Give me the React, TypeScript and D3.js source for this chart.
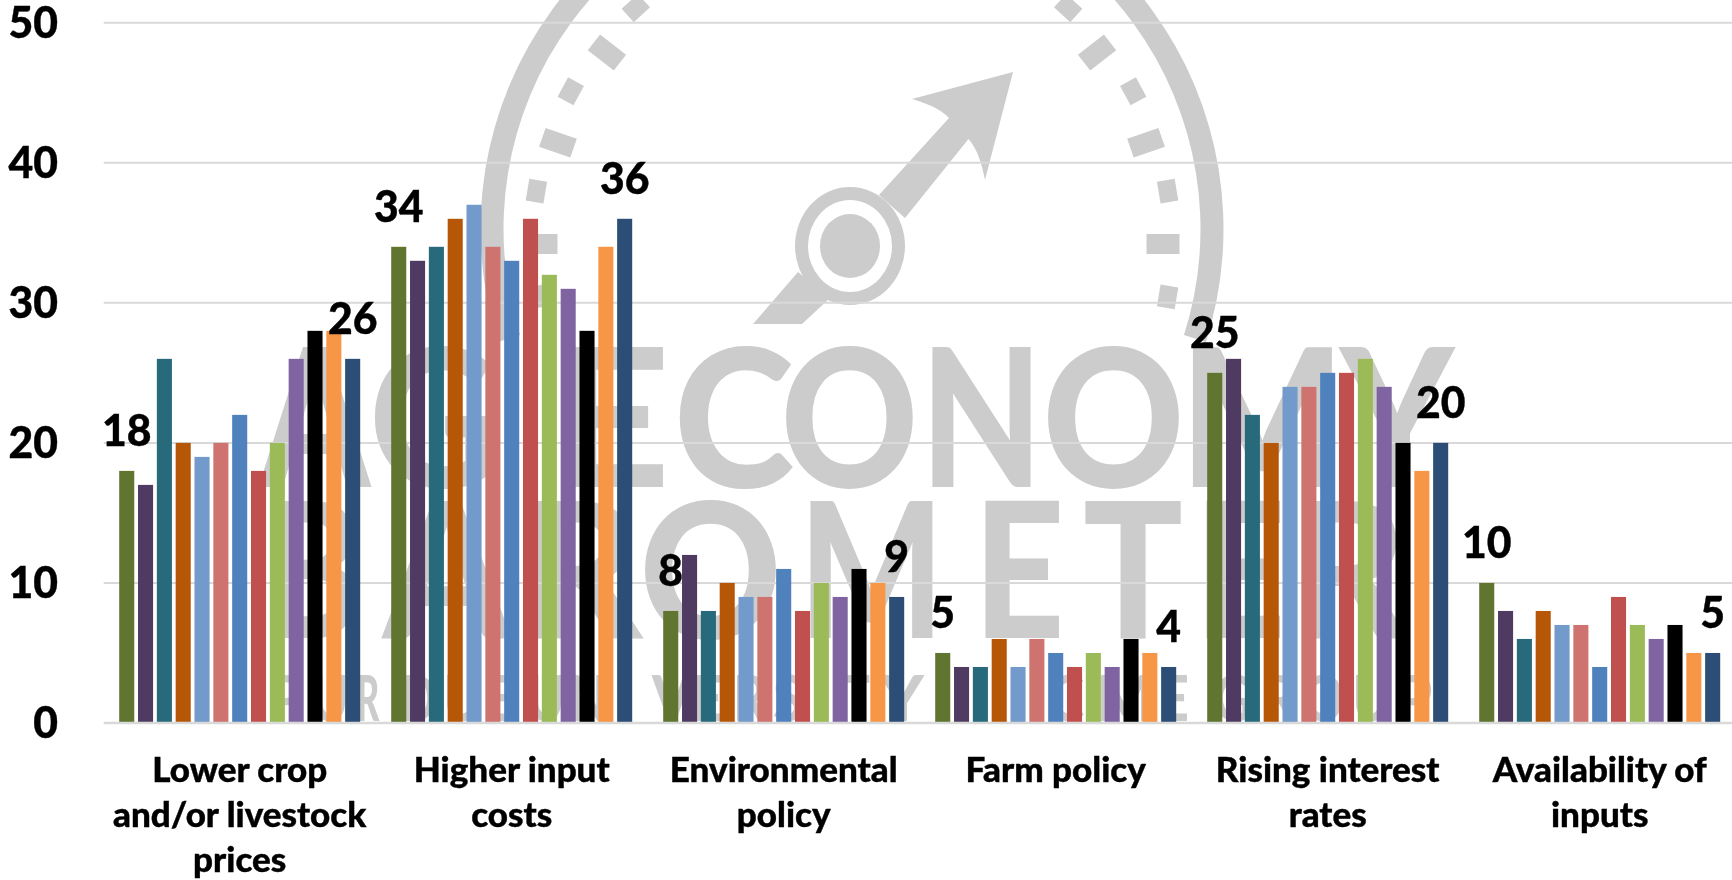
import React from "react";
import * as d3 from "d3";

const categories = [
  ["Lower crop", "and/or livestock", "prices"],
  ["Higher input", "costs"],
  ["Environmental", "policy"],
  ["Farm policy"],
  ["Rising interest", "rates"],
  ["Availability of", "inputs"],
];
const seriesIds = ["s1","s2","s3","s4","s5","s6","s7","s8","s9","s10","s11","s12","s13"];
const seriesColors = ["#5f7530","#4f3b62","#276a7c","#b65708","#729aca","#cf7371","#4f81bd","#c0504d","#9bbb59","#8064a2","#000000","#f79646","#2c4d75"];
const lowerPrices = [18,17,26,20,19,20,22,18,20,26,28,28,26];
const inputCosts = [34,33,34,36,37,34,33,36,32,31,28,34,36];
const envPolicy = [8,12,8,10,9,9,11,8,10,9,11,10,9];
const farmPolicy = [5,4,4,6,4,6,5,4,5,4,6,5,4];
const interestRates = [25,26,22,20,24,24,25,25,26,24,20,18,20];
const inputAvailability = [10,8,6,8,7,7,4,9,7,6,7,5,5];
const groups = [lowerPrices,inputCosts,envPolicy,farmPolicy,interestRates,inputAvailability];
const yTicks = [0,10,20,30,40,50];

// watermark lettering: [glyph, left, right]
const wmLine1: [string,number,number][] = [["A",260,370],["G",377,490],["E",555,663],["C",681,787],["O",789,910],["N",928,1035],["O",1051,1176],["M",1190,1335],["Y",1340,1454]];
const wmLine2: [string,number,number][] = [["B",268,355],["A",383,510],["R",525,635],["O",648,773],["M",808,935],["E",979,1059],["T",1083,1183],["E",1200,1280],["R",1300,1400]];
const wmLine3: [string,number,number][] = [["P",270,300],["U",314,346],["R",358,378],["D",402,434],["U",446,478],["E",490,515],["U",530,562],["N",572,604],["I",616,626],["V",652,692],["E",695,722],["R",735,765],["S",775,802],["I",815,825],["T",840,870],["Y",880,924],["C",1050,1082],["M",1100,1150],["E",1166,1187],["G",1215,1250],["R",1265,1295],["O",1305,1342],["U",1355,1387],["P",1400,1430]];

const W = 1732, H = 880;
const FONT = "Lato, Carlito, sans-serif";
const GREY = "#cccccc";

const y = d3.scaleLinear().domain([0,50]).range([723,22.7]);
const x0 = d3.scaleBand<number>().domain(d3.range(categories.length)).range([103.7,1735.7]);
const x1 = d3.scaleBand<string>().domain(seriesIds).range([15.5,256.5]).paddingInner(0.2);

function Label({x,y,text,anchor="middle",size=44,stretch=0.97}:{x:number;y:number;text:string;anchor?:string;size?:number;stretch?:number}){
  return <text transform={`translate(${x},${y}) scale(${stretch},1)`} textAnchor={anchor as any} fontFamily={FONT} fontWeight={900} fontSize={size} fill="#000" stroke="#000" strokeWidth={0.4}>{text}</text>;
}

function Letters({items,base,size}:{items:[string,number,number][];base:number;size:number}){
  return <g>{items.map(([c,a,b],i)=>{
    const w=b-a;
    const pad="ATYV".includes(c)?0:0.07*w;
    return <text key={i} x={a-pad} y={base} textLength={w+2*pad} lengthAdjust="spacingAndGlyphs" fontFamily={FONT} fontWeight={900} fontSize={size} fill={GREY}>{c}</text>;
  })}</g>;
}

function Watermark(){
  const cx=852, cy=229, r=360;
  const arc = d3.arc()({innerRadius:r-11.5,outerRadius:r+11.5,startAngle:-1.88,endAngle:1.88}) as string;
  const tCx=852,tCy=244;
  const tickEls:React.ReactNode[]=[];
  d3.range(-1,6).forEach(k=>{
    const big=k%2===0;
    [1,-1].forEach(side=>{
      const ang=k*9.5*Math.PI/180;
      const rr=big?311:320;
      const px=tCx+side*rr*Math.cos(ang), py=tCy-rr*Math.sin(ang);
      const rl=big?33:18, tl=big?20:22;
      tickEls.push(<rect key={`${k}${side}`} x={-rl/2} y={-tl/2} width={rl} height={tl} fill={GREY}
        transform={`translate(${px},${py}) rotate(${-side*k*9.5})`}/>);
    });
  });
  return <g>
    <path d={arc} transform={`translate(${cx},${cy})`} fill={GREY}/>
    {tickEls}
    <polygon points="798,272 753,324 802,324 830,298" fill={GREY}/>
    <path d="M879,195 L949,118 C940,108 925,103 912,99 L1013,72 L985,180 C982,165 978,150 968.5,139 L905,218 Z" fill={GREY}/>
    <ellipse cx={850} cy={246} rx={55} ry={59} fill={GREY}/>
    <ellipse cx={850} cy={246} rx={42} ry={46} fill="#fff"/>
    <ellipse cx={850} cy={246} rx={30} ry={32} fill={GREY}/>
    <Letters items={wmLine1} base={487} size={192}/>
    <Letters items={wmLine2} base={638} size={188}/>
    <Letters items={wmLine3} base={721} size={62}/>
  </g>;
}

export default function App(){
  return <svg width={W} height={H} viewBox={`0 0 ${W} ${H}`} style={{position:"fixed",left:0,top:0,background:"#fff",filter:"blur(0.5px)"}}>
    <Watermark/>
    {yTicks.filter(t=>t>0).map(t=><line key={t} x1={103.7} x2={W} y1={y(t)} y2={y(t)} stroke="#d9d9d9" strokeWidth={2}/>)}
    {groups.map((vals,g)=><g key={g} transform={`translate(${x0(g)},0)`}>
      {vals.map((v,i)=><rect key={i} x={x1(seriesIds[i])} y={y(v)} width={x1.bandwidth()} height={y(0)-y(v)} fill={seriesColors[i]}/>)}
    </g>)}
    <line x1={103.7} x2={W} y1={y(0)} y2={y(0)} stroke="#d9d9d9" strokeWidth={2.5}/>
    {yTicks.map(t=><Label key={t} x={58} y={y(t)+15} text={String(t)} anchor="end"/>)}
    {groups.map((vals,g)=>[0,vals.length-1].map(i=><Label key={`${g}-${i}`} x={(x0(g) as number)+(x1(seriesIds[i]) as number)+x1.bandwidth()/2} y={y(vals[i])-25} text={String(vals[i])}/>))}
    {categories.map((lines,g)=>lines.map((l,j)=><Label key={l} x={(x0(g) as number)+x0.bandwidth()/2} y={782+j*45} text={l} size={34} stretch={1.03}/>))}
  </svg>;
}
